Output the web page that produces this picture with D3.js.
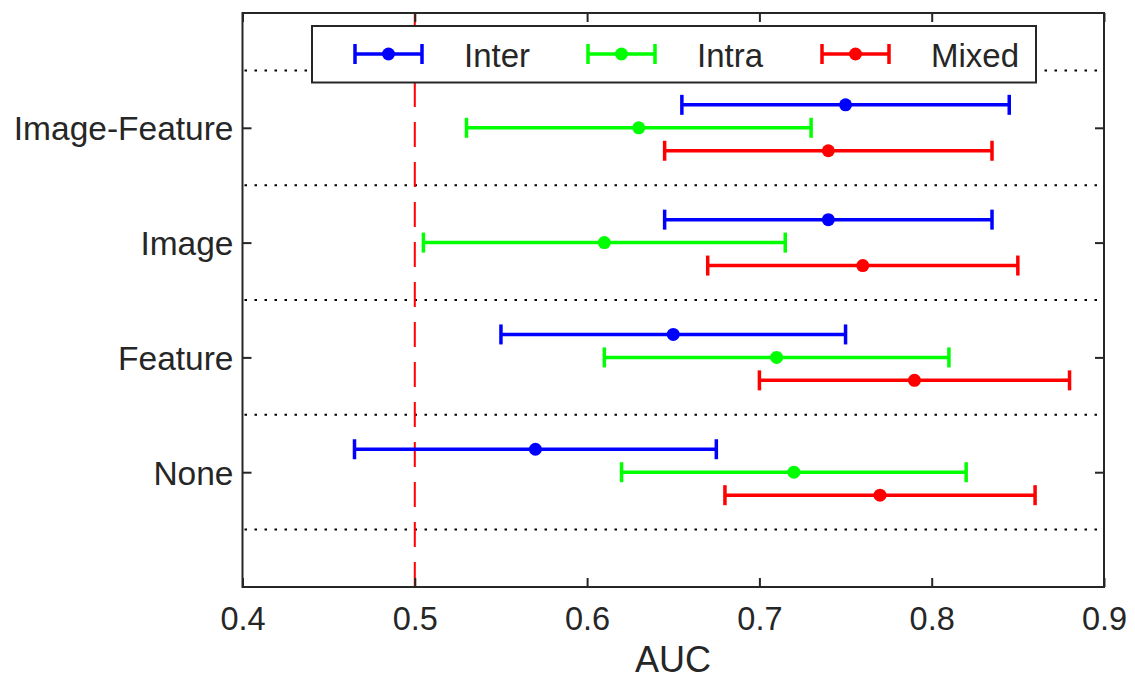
<!DOCTYPE html>
<html>
<head>
<meta charset="utf-8">
<script src="https://cdn.jsdelivr.net/npm/d3@7"></script>
<style>
  html, body { margin: 0; padding: 0; background: #fff; }
  svg { display: block; }
  text { font-family: "Liberation Sans", Arial, Helvetica, sans-serif; fill: #262626; }
</style>
</head>
<body>
<svg id="chart" width="1135" height="680"></svg>
<script>
// ---- data ----
const categories = ["None", "Feature", "Image", "Image-Feature"];
const seriesNames = ["Inter", "Intra", "Mixed"];
const seriesColors = ["#0000ff", "#00ff00", "#ff0000"];
const interMean = [0.57, 0.65, 0.74, 0.75];
const interLow  = [0.465, 0.55, 0.645, 0.655];
const interHigh = [0.675, 0.75, 0.835, 0.845];
const intraMean = [0.72, 0.71, 0.61, 0.63];
const intraLow  = [0.62, 0.61, 0.505, 0.53];
const intraHigh = [0.82, 0.81, 0.715, 0.73];
const mixedMean = [0.77, 0.79, 0.76, 0.74];
const mixedLow  = [0.68, 0.70, 0.67, 0.645];
const mixedHigh = [0.86, 0.88, 0.85, 0.835];
const xTicks = [0.4, 0.5, 0.6, 0.7, 0.8, 0.9];
const xTickLabels = ["0.4", "0.5", "0.6", "0.7", "0.8", "0.9"];
const seriesOffsets = [0.2, 0, -0.2];
const separators = [0.5, 1.5, 2.5, 3.5, 4.5];
const refLine = 0.5;
const xLabel = "AUC";

const series = [
  { name: seriesNames[0], color: seriesColors[0], mean: interMean, low: interLow, high: interHigh, off: seriesOffsets[0] },
  { name: seriesNames[1], color: seriesColors[1], mean: intraMean, low: intraLow, high: intraHigh, off: seriesOffsets[1] },
  { name: seriesNames[2], color: seriesColors[2], mean: mixedMean, low: mixedLow, high: mixedHigh, off: seriesOffsets[2] }
];

// ---- layout ----
const L = 242.5, R = 1104, T = 13, B = 587;
const axisColor = "#262626";
const svg = d3.select("#chart");
const x = d3.scaleLinear().domain([0.4, 0.9]).range([L, R]);
const y = d3.scaleLinear().domain([0, 5]).range([B, T]);

// separators (dotted)
svg.append("g").selectAll("line").data(separators).join("line")
  .attr("x1", L + 2).attr("x2", R - 2)
  .attr("y1", d => y(d)).attr("y2", d => y(d))
  .attr("stroke", "#000").attr("stroke-width", 2)
  .attr("stroke-dasharray", "2.5,7.5");

// reference dashed line
svg.append("line")
  .attr("x1", x(refLine)).attr("x2", x(refLine))
  .attr("y1", B).attr("y2", T)
  .attr("stroke", "#ff0000").attr("stroke-width", 2)
  .attr("stroke-dasharray", "25,15");

// error bars
const capH = 10;
series.forEach(s => {
  const g = svg.append("g");
  categories.forEach((c, i) => {
    const yy = y(i + 1 + s.off);
    g.append("line").attr("x1", x(s.low[i])).attr("x2", x(s.high[i]))
      .attr("y1", yy).attr("y2", yy).attr("stroke", s.color).attr("stroke-width", 3.5);
    [s.low[i], s.high[i]].forEach(v => {
      g.append("line").attr("x1", x(v)).attr("x2", x(v))
        .attr("y1", yy - capH).attr("y2", yy + capH)
        .attr("stroke", s.color).attr("stroke-width", 3.5);
    });
    g.append("circle").attr("cx", x(s.mean[i])).attr("cy", yy).attr("r", 6.5).attr("fill", s.color);
  });
});

// axes
const gx = svg.append("g").attr("transform", `translate(0,${B})`)
  .call(d3.axisBottom(x).tickValues(xTicks).tickFormat((d, i) => xTickLabels[i]).tickSizeInner(-9).tickSizeOuter(0).tickPadding(20));
const gxt = svg.append("g").attr("transform", `translate(0,${T})`)
  .call(d3.axisTop(x).tickValues(xTicks).tickFormat("").tickSizeInner(-9).tickSizeOuter(0));
const yTickVals = categories.map((c, i) => i + 1);
const gy = svg.append("g").attr("transform", `translate(${L},0)`)
  .call(d3.axisLeft(y).tickValues(yTickVals).tickFormat((d, i) => categories[i]).tickSizeInner(-9).tickSizeOuter(0).tickPadding(9));
const gyr = svg.append("g").attr("transform", `translate(${R},0)`)
  .call(d3.axisRight(y).tickValues(yTickVals).tickFormat("").tickSizeInner(-9).tickSizeOuter(0));

[gx, gxt, gy, gyr].forEach(g => {
  g.select(".domain").remove();
  g.selectAll(".tick line").attr("stroke", axisColor).attr("stroke-width", 2);
});
gx.selectAll(".tick text").attr("font-size", 32.5).attr("fill", axisColor)
  .style("font-family", '"Liberation Sans", Arial, sans-serif').attr("dy", "0.72em");
gy.selectAll(".tick text").attr("font-size", 33.5).attr("fill", axisColor)
  .style("font-family", '"Liberation Sans", Arial, sans-serif').attr("dy", "0.36em");

// box
svg.append("rect").attr("x", L).attr("y", T).attr("width", R - L).attr("height", B - T)
  .attr("fill", "none").attr("stroke", axisColor).attr("stroke-width", 2);

// x label
svg.append("text").attr("x", 673).attr("y", 672).attr("text-anchor", "middle")
  .attr("font-size", 36).attr("fill", axisColor).text(xLabel);

// legend
const lg = svg.append("g");
lg.append("rect").attr("x", 312).attr("y", 26).attr("width", 724).attr("height", 56.5)
  .attr("fill", "#fff").attr("stroke", axisColor).attr("stroke-width", 2);
const legendX = [355, 588, 822];
const ly = 54;
series.forEach((s, i) => {
  const x0 = legendX[i], x1 = x0 + 67;
  lg.append("line").attr("x1", x0).attr("x2", x1).attr("y1", ly).attr("y2", ly)
    .attr("stroke", s.color).attr("stroke-width", 3.5);
  [x0, x1].forEach(v => lg.append("line").attr("x1", v).attr("x2", v)
    .attr("y1", ly - 10).attr("y2", ly + 10).attr("stroke", s.color).attr("stroke-width", 3.5));
  lg.append("circle").attr("cx", (x0 + x1) / 2).attr("cy", ly).attr("r", 6.5).attr("fill", s.color);
  lg.append("text").attr("x", x1 + 42).attr("y", 67).attr("font-size", 33).attr("fill", "#000")
    .text(s.name);
});
</script>
</body>
</html>
